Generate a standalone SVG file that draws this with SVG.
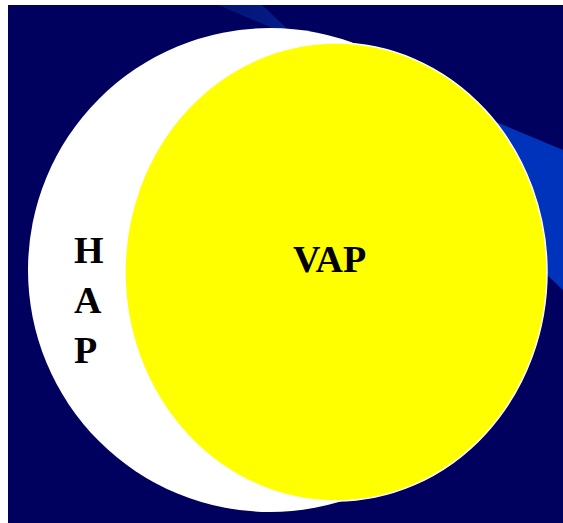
<svg xmlns="http://www.w3.org/2000/svg" width="563" height="523" viewBox="0 0 563 523">
<style>
.lbl{font-family:"Liberation Serif","Times New Roman",serif;font-weight:bold;font-size:38px;fill:#000}
</style>
<defs>
<linearGradient id="beam" gradientUnits="userSpaceOnUse" x1="220" y1="5" x2="520" y2="200">
<stop offset="0" stop-color="#0a2f9a" stop-opacity="0.4"/>
<stop offset="0.55" stop-color="#0033b8"/>
<stop offset="1" stop-color="#0033bb"/>
</linearGradient>
</defs>
<rect x="0" y="0" width="563" height="523" fill="#fff"/>
<rect x="8" y="5" width="555" height="518" fill="#00005e"/>
<polygon points="218,5 262,5 563,290 563,150" fill="url(#beam)"/>
<g id="hap">
<circle cx="270" cy="270" r="242" fill="#fff"/>
<text class="lbl" x="74" y="263">H</text>
<text class="lbl" x="74" y="313">A</text>
<text class="lbl" x="74" y="363">P</text>
</g>
<g id="vap">
<ellipse cx="336" cy="272" rx="211" ry="229" fill="#ffff00" stroke="#fff" stroke-width="1.5"/>
<text class="lbl" x="293" y="272">VAP</text>
</g>
<g id="connectors"/>
</svg>
